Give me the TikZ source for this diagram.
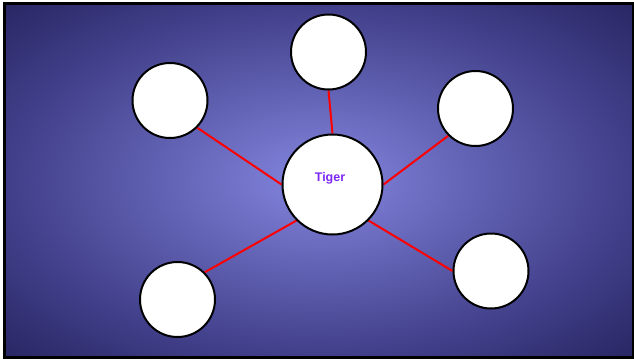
\documentclass[tikz,border=0pt]{standalone}
\usepackage{fontspec}
\setsansfont{Liberation Sans}
\usepackage{tikz}
\usetikzlibrary{positioning, shapes, calc, backgrounds}
\definecolor{bgin}{RGB}{126,128,216}
\definecolor{bgmid}{RGB}{64,62,136}
\definecolor{bgout}{RGB}{40,38,98}
\definecolor{tigerviolet}{RGB}{124,40,245}
\pgfdeclareradialshading{bgglow}{\pgfpoint{0bp}{0bp}}{color(0bp)=(bgin); color(2bp)=(bgin); color(25bp)=(bgmid); color(35.5bp)=(bgout); color(50bp)=(bgout)}
\tikzstyle{link} = [draw=red, line width=2pt]
\tikzstyle{hub} = [circle, minimum size=100pt, inner sep=0pt, draw=black, line width=2pt, fill=white]
\tikzstyle{leaf} = [circle, minimum size=75pt, inner sep=0pt, draw=black, line width=2pt, fill=white]
\tikzstyle{title} = [font=\sffamily\bfseries\fontsize{12.5}{15}\selectfont, text=tigerviolet, inner sep=0pt, anchor=base]

\begin{document}
\begin{tikzpicture}[x=1pt, y=-1pt]
        \useasboundingbox (0,0) rectangle (634,360);

        \node (tiger) [hub] at (332.5,184.5) {};
        \node (tigername) [title] at (330,181.5) {Tiger};
        \node (top) [leaf] at (328.5,52) {};
        \node (upleft) [leaf] at (170,100.5) {};
        \node (upright) [leaf] at (475.5,108.5) {};
        \node (lowleft) [leaf] at (177.5,299.5) {};
        \node (lowright) [leaf] at (491,271) {};

        \begin{pgfonlayer}{background}
        \shade [shading=bgglow] (4,3) rectangle (633,357);
        \draw [line width=3pt] (4.5,3) rectangle (633,357.5);
        \draw [link] (tiger.north) -- (top.south);
        \draw [link] (tiger.west) -- (upleft.south east);
        \draw [link] (tiger.east) -- (upright.south west);
        \draw [link] (tiger.south west) -- (lowleft.north east);
        \draw [link] (tiger.south east) -- (lowright.west);
        \end{pgfonlayer}

\end{tikzpicture}
\end{document}
